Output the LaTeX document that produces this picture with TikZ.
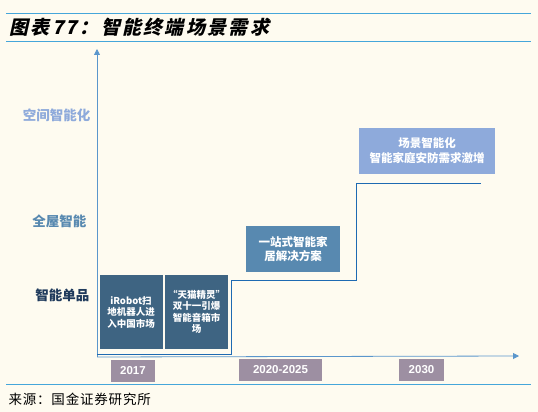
\documentclass[tikz,border=0pt]{standalone}
\usepackage{fontspec}
\setmainfont{Liberation Sans}
\newfontfamily\cjk{Noto Sans CJK SC}
\newfontfamily\cjktitle{Noto Sans CJK SC}[FakeSlant=0.22, LetterSpace=12]
\newfontfamily\cjkfoot{Noto Sans CJK SC}[LetterSpace=6]
\usepackage{tikz}
\usetikzlibrary{arrows.meta, positioning, calc}
\definecolor{paper}{HTML}{FEFBF0}
\definecolor{rulecol}{HTML}{45A6DA}
\definecolor{axiscol}{HTML}{5A96CC}
\definecolor{stepcol}{HTML}{1E6AB2}
\definecolor{single}{HTML}{3E6482}
\definecolor{house}{HTML}{5889B0}
\definecolor{space}{HTML}{8EAADB}
\definecolor{navy}{HTML}{1F3A5C}
\definecolor{yearcol}{HTML}{9D8FA2}

\begin{document}
\begin{tikzpicture}[x=1pt, y=-1pt,
    lvl/.style={anchor=east, font=\cjk\bfseries\fontsize{13.5}{15}\selectfont},
    box/.style={fill=#1, text=white, align=center, inner sep=1pt},
    evt/.style={box=single, minimum width=63pt, minimum height=74pt,
      font=\cjk\bfseries\fontsize{9.5}{11.5}\selectfont},
    yr/.style={fill=yearcol, text=white, minimum height=22pt, inner sep=0pt,
      font=\bfseries\fontsize{11.5}{13}\selectfont},
    ax/.style={thick, axiscol, -{Triangle[length=6pt, width=6pt]}},
    stair/.style={thick, stepcol}]
  \useasboundingbox[fill=paper] (0,0) rectangle (538,412);
  % header and footer
  \draw[rulecol, thick] (6,13) -- (531,13);
  \draw[rulecol, thick] (6,41) -- (531,41);
  \draw[rulecol, thick] (6,384) -- (531,384);
  \node[anchor=west, font=\cjktitle\bfseries\fontsize{19}{21}\selectfont]
    (title) at (6,27) {图表77：智能终端场景需求};
  \node[anchor=west, font=\cjkfoot\fontsize{13.5}{15}\selectfont]
    (src) at (5,399) {来源：国金证券研究所};
  % axes
  \coordinate (o) at (97,357);
  \coordinate (ytop) at (97,49);
  \coordinate (xend) at (519,356);
  \draw[ax] (o) -- (ytop);
  \draw[ax] (o) -- (xend);
  % levels
  \node[lvl, text=space] (l3) at (94,115) {空间智能化};
  \node[lvl, text=house] (l2) at (90,221) {全屋智能};
  \node[lvl, text=navy] (l1) at (93,295) {智能单品};
  % staircase
  \coordinate (s0) at (97,354);
  \coordinate (s1) at (231,354);
  \coordinate (s2) at (356,280);
  \coordinate (s3) at (481,183);
  \draw[stair] (s0) -- (s1) |- (s2) |- (s3);
  % events
  \node[evt] (robot) at (131,312) {iRobot扫\\地机器人进\\入中国市场};
  \node[evt] (tmall) at (196.5,312) {“天猫精灵”\\双十一引爆\\智能音箱市\\场};
  \node[box=house, minimum width=94pt, minimum height=46pt,
    font=\cjk\bfseries\fontsize{11.5}{14}\selectfont]
    (whole) at (293,249) {一站式智能家\\居解决方案};
  \node[box=space, minimum width=136pt, minimum height=46pt,
    font=\cjk\bfseries\fontsize{11.5}{15}\selectfont]
    (scene) at (427,151) {场景智能化\\智能家庭安防需求激增};
  % years
  \node[yr, minimum width=44pt] (y17) at (133,370.5) {2017};
  \node[yr, minimum width=83pt] (y20) at (280.5,370) {2020-2025};
  \node[yr, minimum width=45pt] (y30) at (421.5,370) {2030};
\end{tikzpicture}
\end{document}
